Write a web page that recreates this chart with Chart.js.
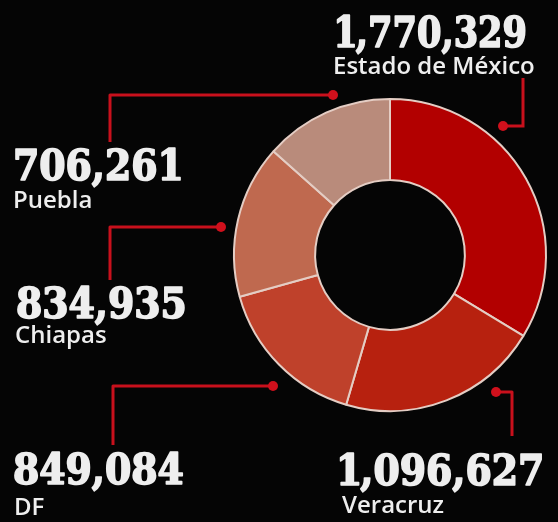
<!DOCTYPE html>
<html>
<head>
<meta charset="utf-8">
<style>
  html, body { margin: 0; padding: 0; background: #050505; }
  #wrap { width: 558px; height: 522px; }
</style>
<script src="https://cdn.jsdelivr.net/npm/chart.js@4/dist/chart.umd.min.js"></script>
</head>
<body>
<div id="wrap"><canvas id="donutChart" width="558" height="522"></canvas></div>
<script>
"use strict";
// datos (sentido horario desde arriba)
const states = ['Estado de México', 'Veracruz', 'DF', 'Chiapas', 'Puebla'];
const totals = [1770329, 1096627, 849084, 834935, 706261];
const sliceColors = ['#b20000', '#b7210f', '#bf412b', '#bf694f', '#b98b7b'];

// posiciones de las etiquetas: punto, codo, fin de la línea, texto
const callouts = [
    { dot: [503, 126], elbow: [523, 126], end: [523, 78], tx: 337, numY: 47, sx: 0.93, nameX: 333, nameY: 74 },
    { dot: [496, 392], elbow: [512, 392], end: [512, 436], tx: 340, numY: 485, sx: 1, nameX: 342, nameY: 513 },
    { dot: [273, 386], elbow: [113, 386], end: [113, 445], tx: 13, numY: 484, sx: 1, nameX: 14, nameY: 515 },
    { dot: [221, 227], elbow: [110, 227], end: [110, 280], tx: 16, numY: 318, sx: 1, nameX: 15, nameY: 343 },
    { dot: [333, 95], elbow: [110, 95], end: [110, 142], tx: 13, numY: 180, sx: 1, nameX: 13, nameY: 208 },
];

// números gruesos; el "1" inicial va más pegado a la coma
const drawNumber = (ctx, text, x, y, sx) => {
    ctx.save();
    ctx.translate(x, y);
    ctx.scale(sx, 1);
    let cx = 0;
    [...text].forEach((ch, k) => {
        const w = ctx.measureText(ch).width;
        const lead = k === 0 && ch === '1';
        ctx.strokeText(ch, cx - (lead ? 4 : 0), 0);
        ctx.fillText(ch, cx - (lead ? 4 : 0), 0);
        cx += w - (lead ? 6 : 0);
    });
    ctx.restore();
};

const calloutPlugin = {
    id: 'callouts',
    afterDraw(chart) {
        const ctx = chart.ctx;
        ctx.save();
        callouts.forEach((c, i) => {
            ctx.strokeStyle = '#c8101c';
            ctx.lineWidth = 3;
            ctx.beginPath();
            ctx.moveTo(c.dot[0], c.dot[1]);
            ctx.lineTo(c.elbow[0], c.elbow[1]);
            ctx.lineTo(c.end[0], c.end[1]);
            ctx.stroke();
            ctx.fillStyle = '#d0101c';
            ctx.beginPath();
            ctx.arc(c.dot[0], c.dot[1], 5, 0, Math.PI * 2);
            ctx.fill();

            ctx.fillStyle = '#eeeeee';
            ctx.strokeStyle = '#eeeeee';
            ctx.lineWidth = 1.6;
            ctx.lineJoin = 'round';
            ctx.textBaseline = 'alphabetic';
            ctx.textAlign = 'left';
            ctx.font = 'bold 42px "DejaVu Serif Condensed", "DejaVu Serif", serif';
            drawNumber(ctx, totals[i].toLocaleString('en-US'), c.tx, c.numY, c.sx);
            ctx.font = '600 24px "Open Sans", sans-serif';
            ctx.fillText(states[i], c.nameX, c.nameY);
        });
        ctx.restore();
    }
};

const ctx = document.getElementById('donutChart').getContext('2d');
new Chart(ctx, {
    type: 'doughnut',
    data: {
        labels: states,
        datasets: [{
            data: totals,
            backgroundColor: sliceColors,
            borderColor: '#e4cdc4',
            borderWidth: 2,
            hoverOffset: 0,
        }],
    },
    options: {
        responsive: false,
        animation: false,
        cutout: '48%',
        layout: {
            padding: { left: 233, right: 11, top: 98, bottom: 110 },
        },
        plugins: {
            legend: { display: false },
            tooltip: { enabled: false },
        },
        events: [],
    },
    plugins: [calloutPlugin],
});
</script>
</body>
</html>
